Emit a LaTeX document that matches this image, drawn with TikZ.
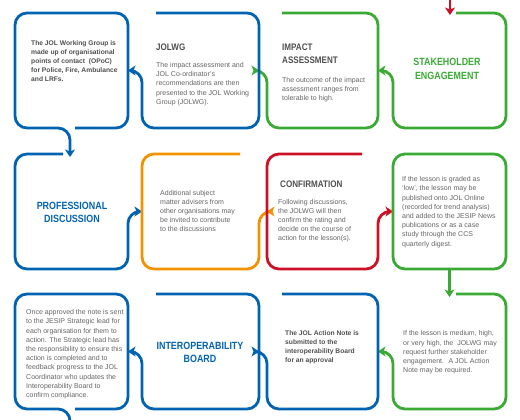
\documentclass[tikz,border=0pt]{standalone}
\usepackage{fontspec}
\setmainfont{Liberation Sans}
\newfontfamily\headfont[FakeStretch=0.85]{Liberation Sans}
\usetikzlibrary{arrows.meta}

\definecolor{jblue}{RGB}{0,99,178}
\definecolor{jgreen}{RGB}{58,170,53}
\definecolor{jorange}{RGB}{243,146,0}
\definecolor{jred}{RGB}{205,16,38}
\definecolor{txtgray}{RGB}{100,100,100}
\definecolor{headgray}{RGB}{78,78,78}

\tikzset{
  panel/.style={minimum width=#1pt, minimum height=115pt, inner sep=0pt, outer sep=0pt},
  flow/.style={line width=2.8pt, rounded corners=12pt},
  arrowed/.style={-{Stealth[length=7.5pt,width=10pt,inset=2pt]}},
  body/.style={anchor=north west, inner sep=0pt, align=left, text=txtgray, font=\fontsize{7}{9.2}\selectfont},
  bodybold/.style={body, text=headgray, font=\bfseries\fontsize{6.7}{9}\selectfont},
  head/.style={anchor=north west, inner sep=0pt, align=left, text=headgray, font=\headfont\bfseries\fontsize{9.5}{13}\selectfont},
  big/.style={anchor=north, inner sep=0pt, align=center, font=\headfont\bfseries\fontsize{10.5}{13.8}\selectfont}
}

\begin{document}
\begin{tikzpicture}[x=1pt, y=-1pt]
\useasboundingbox (0,0) rectangle (520,420);
% the twelve panels, row by row
\foreach \n/\x/\y/\w in {wg/71.5/70.5/113, jolwg/200.5/70.5/117, impact/322.5/70.5/111, stake/449.5/70.5/113,
    prof/71.5/211.5/113, advisers/200.5/211.5/117, confirm/322.5/211.5/111, low/449.5/211.5/113,
    approved/71.5/351.5/113, board/200.5/351.5/117, note/322.5/351.5/111, further/449.5/351.5/113} {%
    \node[panel=\w] (\n) at (\x,\y) {};
}
\coordinate (entry) at (450,-6);
\coordinate (exit) at ([xshift=55pt,yshift=-20pt]approved.south west);

% top row, right to left
\draw[jred, line width=2.8pt, arrowed] (entry) -- ([yshift=-2pt]stake.north west -| entry);
\draw[flow, arrowed, jgreen] ([xshift=63pt]stake.north west) -- (stake.north east) -- (stake.south east) -- (stake.south west) -- (stake.west) [rounded corners=5pt] -- (impact.east);
\draw[flow, arrowed, jgreen] ([xshift=15pt]impact.north west) -- (impact.north east) -- (impact.south east) -- (impact.south west) -- (impact.west) [rounded corners=5pt] -- (jolwg.east);
\draw[flow, arrowed, jblue] ([xshift=14pt]jolwg.north west) -- (jolwg.north east) -- (jolwg.south east) -- (jolwg.south west) -- (jolwg.west) [rounded corners=5pt] -- (wg.east);
\draw[flow, arrowed, jblue] ([xshift=60pt]wg.south west) -- (wg.south east) -- (wg.north east) -- (wg.north west) -- (wg.south west) -- ([xshift=55pt]wg.south west) [rounded corners=5pt] -- ([xshift=55pt,yshift=-3pt]prof.north west);

% middle row, left to right
\draw[flow, arrowed, jblue] ([xshift=48pt]prof.north west) -- (prof.north west) -- (prof.south west) -- (prof.south east) -- (prof.east) [rounded corners=5pt] -- (advisers.west);
\draw[flow, arrowed, jorange] ([xshift=-19pt]advisers.north east) -- (advisers.north west) -- (advisers.south west) -- (advisers.south east) -- (advisers.east) [rounded corners=5pt] -- (confirm.west);
\draw[flow, arrowed, jred] ([xshift=-16pt]confirm.north east) -- (confirm.north west) -- (confirm.south west) -- (confirm.south east) -- (confirm.east) [rounded corners=5pt] -- (low.west);
\draw[flow, jgreen] (low.north west) rectangle (low.south east);
\draw[jgreen, line width=2.8pt, arrowed] (low.south) -- ([yshift=-3pt]further.north);

% bottom row, right to left
\draw[flow, arrowed, jgreen] ([xshift=63pt]further.north west) -- (further.north east) -- (further.south east) -- (further.south west) -- (further.west) [rounded corners=5pt] -- (note.east);
\draw[flow, arrowed, jblue] ([xshift=15pt]note.north west) -- (note.north east) -- (note.south east) -- (note.south west) -- (note.west) [rounded corners=5pt] -- (board.east);
\draw[flow, arrowed, jblue] ([xshift=14pt]board.north west) -- (board.north east) -- (board.south east) -- (board.south west) -- (board.west) [rounded corners=5pt] -- (approved.east);
\draw[flow, jblue] ([xshift=60pt]approved.south west) -- (approved.south east) -- (approved.north east) -- (approved.north west) -- (approved.south west) -- ([xshift=55pt]approved.south west) [rounded corners=5pt] -- (exit);

% texts
\node[bodybold] (wgtext) at (31,40.5) {The JOL Working Group is\\made up of organisational\\points of contact \ (OPoC)\\for Police, Fire, Ambulance\\and LRFs.};
\node[head] (jolwgtitle) at (156,43.7) {JOLWG};
\node[body] (jolwgtext) at (156,62.3) {The impact assessment and\\JOL Co-ordinator’s\\recommendations are then\\presented to the JOL Working\\Group (JOLWG).};
\node[head] (impacttitle) at (282,43.2) {IMPACT\\ASSESSMENT};
\node[body] (impacttext) at (282,77.3) {The outcome of the impact\\assessment ranges from\\tolerable to high.};
\node[big, text=jgreen] (staketitle) at (447,58.3) {STAKEHOLDER\\ENGAGEMENT};

\node[big, text=jblue] (proftitle) at (72,201.5) {PROFESSIONAL\\DISCUSSION};
\node[body] (adviserstext) at (160,189.8) {Additional subject\\matter advisers from\\other organisations may\\be invited to contribute\\to the discussions};
\node[head] (confirmtitle) at (280,180.2) {CONFIRMATION};
\node[body] (confirmtext) at (278,198.8) {Following discussions,\\the JOLWG will then\\confirm the rating and\\decide on the course of\\action for the lesson(s).};
\node[body] (lowtext) at (402,176.5) {If the lesson is graded as\\‘low’, the lesson may be\\published onto JOL Online\\(recorded for trend analysis)\\and added to the JESIP News\\publications or as a case\\study through the CCS\\quarterly digest.};

\node[body] (approvedtext) at (26,309.5) {Once approved the note is sent\\to the JESIP Strategic lead for\\each organisation for them to\\action. The Strategic lead has\\the responsibility to ensure this\\action is completed and to\\feedback progress to the JOL\\Coordinator who updates the\\Interoperability Board to\\confirm compliance.};
\node[big, text=jblue] (boardtitle) at (200,341.5) {INTEROPERABILITY\\BOARD};
\node[bodybold] (notetext) at (285,330.8) {The JOL Action Note is\\submitted to the\\interoperability Board\\for an approval};
\node[body] (furthertext) at (403,330.6) {If the lesson is medium, high,\\or very high, the \ JOLWG may\\request further stakeholder\\engagement. \ A JOL Action\\Note may be required.};
\end{tikzpicture}
\end{document}
